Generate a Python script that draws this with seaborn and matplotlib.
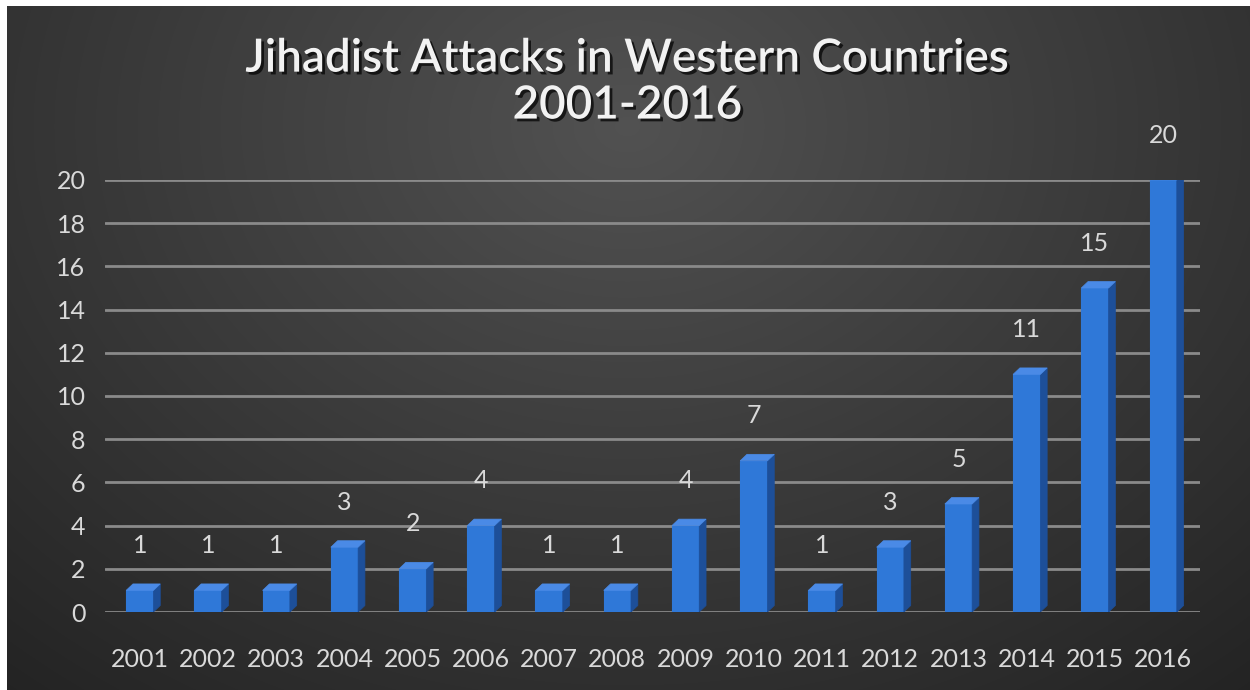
import numpy as np
import pandas as pd
import seaborn as sns
import matplotlib.pyplot as plt
import matplotlib.patheffects as pe
from matplotlib.patches import Polygon

# data
years = ['2001', '2002', '2003', '2004', '2005', '2006', '2007', '2008',
         '2009', '2010', '2011', '2012', '2013', '2014', '2015', '2016']
attacks = [1, 1, 1, 3, 2, 4, 1, 1, 4, 7, 1, 3, 5, 11, 15, 20]
yticks = list(range(0, 21, 2))

df = pd.DataFrame({'year': years, 'attacks': attacks})

sns.set_theme(style='dark')
plt.rcParams['font.family'] = ['Lato', 'DejaVu Sans']

W, H = 1250, 690
fig = plt.figure(figsize=(W / 100, H / 100), dpi=100, facecolor='white')

# dark radial background
bg = fig.add_axes([7 / W, 0, 1 - 7 / W, 1 - 6 / H], zorder=0)
yy, xx = np.mgrid[0:684, 0:1243]
r = np.sqrt(((xx - 620) / 900.0) ** 2 + ((yy - 120) / 700.0) ** 2)
shade = np.clip(0.32 - 0.17 * r, 0.13, 0.32)
bg.imshow(np.dstack([shade, shade, shade]), aspect='auto', extent=[0, 1, 0, 1])
bg.set_axis_off()

ax = fig.add_axes([105 / W, (H - 612) / H, 1095 / W, 432 / H], zorder=1)
ax.patch.set_alpha(0)
ax.set_axisbelow(True)

sns.barplot(data=df, x='year', y='attacks', color='#2f78d8', width=0.4,
            saturation=1, edgecolor='#2f78d8', linewidth=0.8, ax=ax, zorder=3)

# fake 3d side and top for each bar
for p in list(ax.patches):
    x0, w, h = p.get_x(), p.get_width(), p.get_height()
    dx, dy = 0.1, 0.3
    side = Polygon([(x0 + w, 0), (x0 + w + dx, dy), (x0 + w + dx, h + dy), (x0 + w, h)],
                   closed=True, facecolor='#1d4f99', edgecolor='#1d4f99', lw=0.5, zorder=3)
    top = Polygon([(x0, h), (x0 + dx, h + dy), (x0 + w + dx, h + dy), (x0 + w, h)],
                  closed=True, facecolor='#4a8ae6', edgecolor='#4a8ae6', lw=0.5, zorder=3)
    ax.add_patch(side)
    ax.add_patch(top)

for i, v in enumerate(attacks):
    ax.annotate(str(v), (i, v), xytext=(0, 24), textcoords='offset points',
                ha='center', va='bottom', color='#d9d9d9', fontsize=18,
                annotation_clip=False)

ax.set_xlim(-0.51, 15.54)
ax.set_ylim(0, 20)
ax.set_yticks(yticks)
ax.yaxis.grid(True, color='#8a8a8a', linewidth=2)
ax.xaxis.grid(False)
for s in ax.spines.values():
    s.set_visible(False)
ax.tick_params(axis='both', colors='#d9d9d9', labelsize=18, length=0)
ax.tick_params(axis='y', pad=14)
ax.tick_params(axis='x', pad=26)
ax.set_xlabel('')
ax.set_ylabel('')

shadow = [pe.SimplePatchShadow(offset=(2, -2), shadow_rgbFace='black', alpha=0.7), pe.Normal()]
fig.text(0.502, 0.915, 'Jihadist Attacks in Western Countries', ha='center', va='center',
         fontsize=33, fontweight='semibold', color='#f2f2f2', path_effects=shadow)
fig.text(0.502, 0.847, '2001-2016', ha='center', va='center',
         fontsize=33, fontweight='semibold', color='#f2f2f2', path_effects=shadow)

fig.savefig('out.png', dpi=100, facecolor='white')
